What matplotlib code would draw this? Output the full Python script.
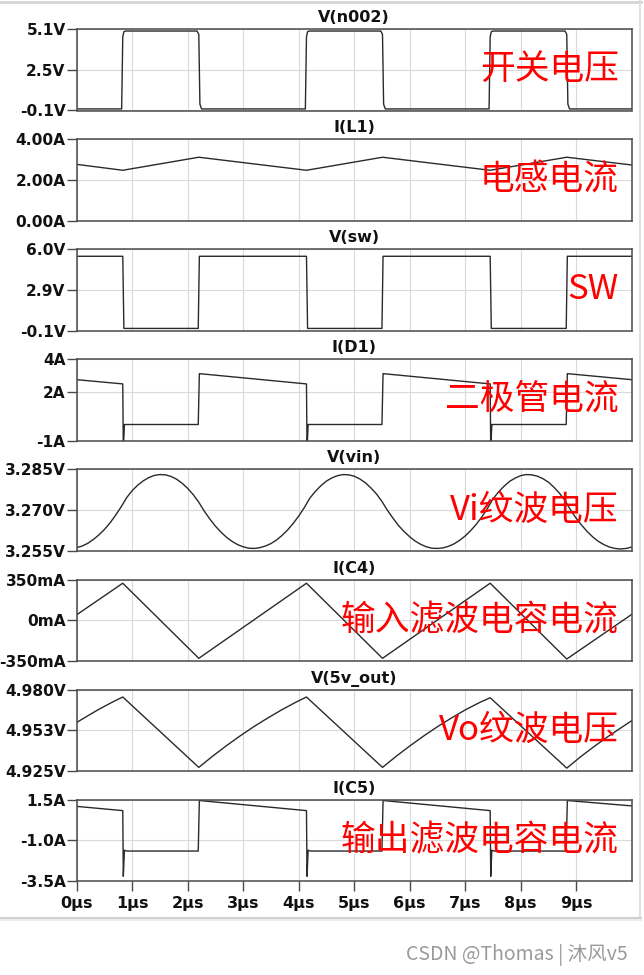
import matplotlib
matplotlib.use("Agg")
import matplotlib.pyplot as plt
from matplotlib.lines import Line2D

# ---------------- data ----------------
titles = ["V(n002)", "I(L1)", "V(sw)", "I(D1)", "V(vin)", "I(C4)", "V(5v_out)", "I(C5)"]
labels_cn = ["开关电压", "电感电流", "SW", "二极管电流", "Vi纹波电压", "输入滤波电容电流", "Vo纹波电压", "输出滤波电容电流"]

x_ticks = [0, 1, 2, 3, 4, 5, 6, 7, 8, 9]
x_ticklabels = ["0μs", "1μs", "2μs", "3μs", "4μs", "5μs", "6μs", "7μs", "8μs", "9μs"]

n002_t = [0, 0.81, 0.83, 0.85, 0.88, 2.17, 2.20, 2.22, 2.25,
          4.12, 4.14, 4.16, 4.19, 5.48, 5.51, 5.53, 5.56,
          7.43, 7.45, 7.47, 7.50, 8.80, 8.83, 8.85, 8.88, 10]
n002_v = [0, 0, 4.6, 4.93, 4.97, 4.97, 4.75, 0.3, 0,
          0, 4.6, 4.93, 4.97, 4.97, 4.75, 0.3, 0,
          0, 4.6, 4.93, 4.97, 4.97, 4.75, 0.3, 0, 0]

il1_t = [0, 0.83, 2.20, 4.14, 5.51, 7.45, 8.83, 10]
il1_v = [2.76, 2.47, 3.11, 2.47, 3.11, 2.47, 3.11, 2.73]

sw_t = [0, 0.83, 0.85, 2.19, 2.21, 4.14, 4.16, 5.50, 5.52, 7.45, 7.47, 8.82, 8.84, 10]
sw_v = [5.47, 5.47, 0.07, 0.07, 5.47, 5.47, 0.07, 0.07, 5.47, 5.47, 0.07, 0.07, 5.47, 5.47]

id1_t = [0, 0.83, 0.84, 0.86, 2.19, 2.21, 4.14, 4.15, 4.17, 5.50, 5.52, 7.45, 7.46, 7.48, 8.82, 8.84, 10]
id1_v = [2.75, 2.49, -1.55, 0.0, 0.0, 3.12, 2.49, -1.55, 0.0, 0.0, 3.12, 2.49, -1.55, 0.0, 0.0, 3.12, 2.75]

vin_t = [round(0.1 * k, 1) for k in range(101)]
vin_v = [3.2562, 3.2568, 3.2578, 3.2592, 3.2609, 3.2629, 3.2653, 3.2681, 3.2712, 3.2746,
         3.2772, 3.2792, 3.2808, 3.2820, 3.2828, 3.2831, 3.2830, 3.2824, 3.2814, 3.2799,
         3.2780, 3.2757, 3.2729, 3.2696, 3.2667, 3.2641, 3.2619, 3.2600, 3.2585, 3.2573,
         3.2565, 3.2560, 3.2559, 3.2562, 3.2568, 3.2577, 3.2590, 3.2607, 3.2627, 3.2651,
         3.2678, 3.2709, 3.2744, 3.2769, 3.2790, 3.2807, 3.2819, 3.2827, 3.2831, 3.2830,
         3.2825, 3.2815, 3.2801, 3.2782, 3.2760, 3.2732, 3.2699, 3.2670, 3.2643, 3.2621,
         3.2602, 3.2586, 3.2574, 3.2565, 3.2560, 3.2559, 3.2561, 3.2567, 3.2576, 3.2589,
         3.2605, 3.2625, 3.2648, 3.2675, 3.2706, 3.2741, 3.2767, 3.2788, 3.2806, 3.2818,
         3.2827, 3.2831, 3.2830, 3.2825, 3.2816, 3.2803, 3.2784, 3.2762, 3.2735, 3.2700,
         3.2670, 3.2644, 3.2621, 3.2601, 3.2585, 3.2573, 3.2564, 3.2559, 3.2557, 3.2559,
         3.2564]

ic4_t = [0, 0.83, 2.20, 4.14, 5.51, 7.45, 8.83, 10]
ic4_v = [47, 318, -327, 318, -327, 318, -333, 50]

vout_t = [0, 0.14, 0.39, 0.64, 0.83,
          2.20, 2.45, 2.70, 2.95, 3.20, 3.45, 3.70, 3.95, 4.14,
          5.51, 5.76, 6.01, 6.26, 6.51, 6.76, 7.01, 7.26, 7.45,
          8.83, 9.08, 9.33, 9.58, 9.83, 10.0]
vout_v = [4.9578, 4.9610, 4.9665, 4.9715, 4.9750,
          4.9275, 4.9351, 4.9422, 4.9489, 4.9552, 4.9610, 4.9665, 4.9715, 4.9750,
          4.9275, 4.9351, 4.9422, 4.9489, 4.9552, 4.9610, 4.9665, 4.9713, 4.9745,
          4.9270, 4.9347, 4.9418, 4.9485, 4.9548, 4.9590]

ic5_t = [0, 0.83, 0.84, 0.86, 0.90, 2.19, 2.21, 4.14, 4.15, 4.17, 4.21, 5.50, 5.52, 7.45, 7.46, 7.48,
         7.52, 8.82, 8.84, 10]
ic5_v = [1.09, 0.83, -3.2, -1.60, -1.65, -1.65, 1.45, 0.83, -3.2, -1.60, -1.65, -1.65, 1.45, 0.83,
         -3.2, -1.60, -1.65, -1.65, 1.45, 1.12]

y_limits = [(-0.1, 5.1), (0.0, 4.0), (-0.1, 6.0), (-1.0, 4.0), (3.255, 3.285), (-350, 350),
            (4.925, 4.980), (-3.5, 1.5)]
y_ticks = [[-0.1, 2.5, 5.1], [0, 2, 4], [-0.1, 2.95, 6.0], [-1, 2, 4], [3.255, 3.270, 3.285],
           [-350, 0, 350], [4.925, 4.9525, 4.980], [-3.5, -1.0, 1.5]]
y_ticklabels = [["-0.1V", "2.5V", "5.1V"], ["0.00A", "2.00A", "4.00A"], ["-0.1V", "2.9V", "6.0V"],
                ["-1A", "2A", "4A"], ["3.255V", "3.270V", "3.285V"], ["-350mA", "0mA", "350mA"],
                ["4.925V", "4.953V", "4.980V"], ["-3.5A", "-1.0A", "1.5A"]]

series = [(n002_t, n002_v), (il1_t, il1_v), (sw_t, sw_v), (id1_t, id1_v), (vin_t, vin_v),
          (ic4_t, ic4_v), (vout_t, vout_v), (ic5_t, ic5_v)]

# ---------------- figure ----------------
W, H = 644, 975
fig = plt.figure(figsize=(W / 100, H / 100), dpi=100)
fig.patch.set_facecolor("white")

left_px, right_px = 76.7, 631.7
frame_col = "#4a4a4a"
line_col = "#2a2a2a"
grid_col = "#dadada"
tick_fs = 11.1

axes = []
for i in range(8):
    top = 29 + 110.1 * i
    h = 81.5
    ax = fig.add_axes([left_px / W, 1 - (top + h) / H, (right_px - left_px) / W, h / H])
    axes.append(ax)
    t, v = series[i]
    ax.plot(t, v, color=line_col, lw=1.0, solid_joinstyle="round")
    ax.set_xlim(0, 10)
    ax.set_ylim(*y_limits[i])
    ax.set_yticks(y_ticks[i])
    ax.set_yticklabels(y_ticklabels[i])
    ax.set_xticks(x_ticks)
    ax.grid(True, color=grid_col, lw=0.8)
    ax.set_axisbelow(True)
    for s in ax.spines.values():
        s.set_color(frame_col)
        s.set_linewidth(1.1)
    ax.tick_params(axis="y", direction="out", length=7, width=1.0, color=frame_col, pad=1,
                   labelsize=tick_fs, labelcolor="#111111")
    for lab in ax.get_yticklabels():
        lab.set_fontweight("bold")
    if i < 7:
        ax.tick_params(axis="x", length=0, labelbottom=False)
    else:
        ax.set_xticklabels(x_ticklabels)
        ax.tick_params(axis="x", direction="out", length=7, width=1.0, color=frame_col, pad=4,
                       labelsize=11.5, labelcolor="#111111")
        for lab in ax.get_xticklabels():
            lab.set_fontweight("bold")
    ax.set_title(titles[i], fontsize=11.5, fontweight="bold", color="#111111", pad=5)
    ax.text(0.977, 0.5, labels_cn[i], transform=ax.transAxes, ha="right", va="center",
            fontsize=25, color="#ff0000", fontweight="light",
            family=["Noto Sans CJK SC", "DejaVu Sans"])

# screenshot card border
def fig_line(x0, y0, x1, y1, color, lw):
    fig.add_artist(Line2D([x0 / W, x1 / W], [1 - y0 / H, 1 - y1 / H], color=color, lw=lw,
                          transform=fig.transFigure))

fig_line(0, 1.5, 641, 1.5, "#d4d4d4", 2.0)
fig_line(640, 0, 640, 918, "#dcdcdc", 1.2)
fig_line(0, 918, 641, 918, "#d0d0d0", 1.5)
fig_line(0, 920, 641, 920, "#ececec", 1.5)

fig.text(628 / W, 1 - 955 / H, "CSDN @Thomas | 沐风v5", ha="right", va="center", fontsize=14,
         color="#9a9a9a", family=["Noto Sans CJK SC", "DejaVu Sans"])

fig.savefig("out.png", dpi=100, facecolor="white")
